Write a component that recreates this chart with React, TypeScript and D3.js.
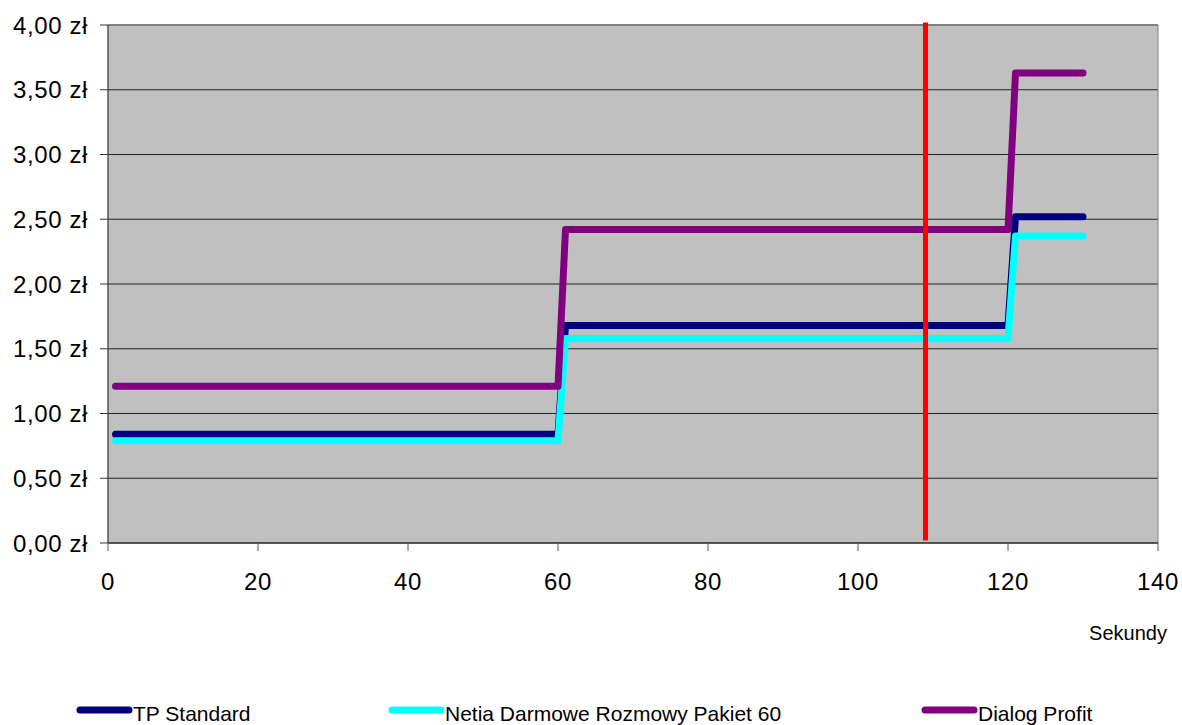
import React from "react";
import * as d3 from "d3";

const seconds = d3.range(1, 131);
const tpStandard = [0.84, 1.68, 2.52];
const netia = [0.79, 1.58, 2.37];
const dialog = [1.21, 2.42, 3.63];
const seriesNames = ["TP Standard", "Netia Darmowe Rozmowy Pakiet 60", "Dialog Profit"];
const seriesColors = ["#000080", "#00FFFF", "#800080"];
const yTicks = [0, 0.5, 1, 1.5, 2, 2.5, 3, 3.5, 4];
const xTicks = [0, 20, 40, 60, 80, 100, 120, 140];
const markerX = [109, 109];
const markerY = [4.02, 0.02];

function stepValue(levels: number[], s: number) {
  return s <= 60 ? levels[0] : s <= 120 ? levels[1] : levels[2];
}

export default function App() {
  const W = 1182, H = 725;
  const left = 108, right = 1158, top = 25, bottom = 543;
  const x = d3.scaleLinear().domain([0, 140]).range([left, right]);
  const y = d3.scaleLinear().domain([0, 4]).range([bottom, top]);
  const line = d3.line<[number, number]>().x(d => x(d[0])).y(d => y(d[1]));
  const all = [tpStandard, netia, dialog];
  const font = "'Liberation Sans', Arial, sans-serif";
  const legendX = [77, 389, 922];
  return (
    <svg width={W} height={H} style={{ position: "absolute", left: 0, top: 0 }} fontFamily={font}>
      <rect x={left} y={top} width={right - left} height={bottom - top} fill="#C0C0C0" />
      {yTicks.slice(1, -1).map(t => (
        <line key={t} x1={left} x2={right} y1={y(t)} y2={y(t)} stroke="#222" strokeWidth={1} />
      ))}
      <line x1={left} x2={right} y1={top} y2={top} stroke="#808080" strokeWidth={2} />
      <line x1={right} x2={right} y1={top} y2={bottom} stroke="#808080" strokeWidth={1} />
      <line x1={left} x2={left} y1={top} y2={bottom} stroke="#555" strokeWidth={1.5} />
      <line x1={left} x2={right} y1={bottom} y2={bottom} stroke="#222" strokeWidth={1.5} />
      {yTicks.map(t => (
        <g key={t}>
          <line x1={left - 8} x2={left} y1={y(t)} y2={y(t)} stroke="#333" />
          <text x={88} y={y(t)} dy="0.36em" textAnchor="end" fontSize={24} letterSpacing={0.6}>
            {t.toFixed(2).replace(".", ",") + " zł"}
          </text>
        </g>
      ))}
      {xTicks.map(t => (
        <g key={t}>
          <line x1={x(t)} x2={x(t)} y1={bottom} y2={bottom + 8} stroke="#555" />
          <text x={x(t)} y={590} textAnchor="middle" fontSize={24} letterSpacing={0.6}>{t}</text>
        </g>
      ))}
      <text x={1128} y={640} textAnchor="middle" fontSize={20}>Sekundy</text>
      {all.map((levels, i) => (
        <path key={i}
          d={line(seconds.map(s => [s, stepValue(levels, s)] as [number, number])) || ""}
          fill="none" stroke={seriesColors[i]} strokeWidth={7}
          strokeLinejoin="round" strokeLinecap="round" />
      ))}
      <line x1={x(markerX[0])} x2={x(markerX[1])} y1={y(markerY[0])} y2={y(markerY[1])}
        stroke="#FF0000" strokeWidth={5} />
      {seriesNames.map((n, i) => (
        <g key={n}>
          <line x1={legendX[i] + 3} x2={legendX[i] + 52} y1={710} y2={710}
            stroke={seriesColors[i]} strokeWidth={7} strokeLinecap="round" />
          <text x={legendX[i] + 56} y={721} fontSize={21}>{n}</text>
        </g>
      ))}
    </svg>
  );
}
